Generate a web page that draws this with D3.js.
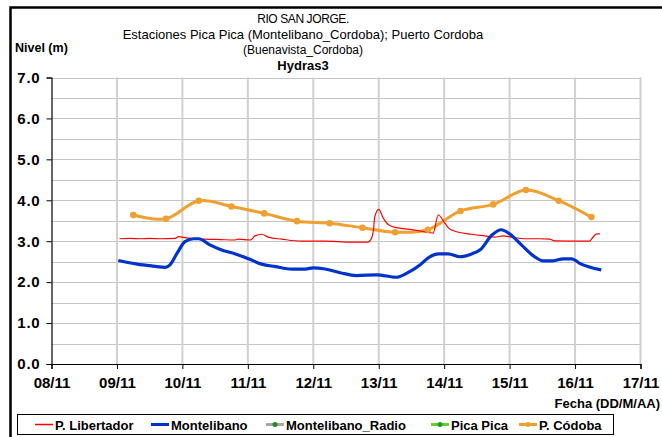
<!DOCTYPE html>
<html>
<head>
<meta charset="utf-8">
<script src="https://cdn.jsdelivr.net/npm/d3@7/dist/d3.min.js"></script>
<style>
  html, body { margin: 0; padding: 0; background: #fff; }
  svg { display: block; font-family: "Liberation Sans", Arial, sans-serif; }
</style>
</head>
<body>
<svg id="chart" width="662" height="437"></svg>
<script>
// Day labels along the time axis (08/11 .. 17/11)
const dayLabels = ["08/11", "09/11", "10/11", "11/11", "12/11", "13/11", "14/11", "15/11", "16/11", "17/11"];
const levelTicks = [0, 1, 2, 3, 4, 5, 6, 7];

// P. Libertador (day of month as decimal, level in m)
const libertadorDays = [9.04, 9.20, 9.36, 9.51, 9.66, 9.89, 9.94, 9.99, 10.12, 10.35, 10.58, 10.81, 10.85, 11.04, 11.11, 11.21, 11.31, 11.52, 11.82, 12.18, 12.56, 12.84, 12.89, 12.92, 12.94, 13.00, 13.07, 13.15, 13.27, 13.48, 13.63, 13.78, 13.83, 13.91, 14.01, 14.09, 14.22, 14.42, 14.62, 14.77, 14.90, 15.03, 15.23, 15.46, 15.61, 15.69, 16.07, 16.22, 16.28, 16.33, 16.38];
const libertadorLevels = [3.06, 3.07, 3.06, 3.07, 3.06, 3.07, 3.11, 3.10, 3.07, 3.05, 3.04, 3.03, 3.05, 3.03, 3.13, 3.17, 3.10, 3.05, 3.00, 3.00, 2.98, 2.98, 3.07, 3.28, 3.60, 3.78, 3.56, 3.40, 3.33, 3.29, 3.25, 3.21, 3.20, 3.64, 3.44, 3.29, 3.22, 3.17, 3.13, 3.10, 3.13, 3.10, 3.06, 3.06, 3.05, 3.01, 3.00, 3.00, 3.11, 3.18, 3.18];

// Montelibano
const montelibanoDays = [9.02, 9.31, 9.56, 9.74, 9.81, 9.92, 10.04, 10.17, 10.25, 10.42, 10.58, 10.81, 11.01, 11.21, 11.42, 11.67, 11.88, 12.00, 12.18, 12.41, 12.66, 12.97, 13.27, 13.43, 13.63, 13.78, 13.91, 14.06, 14.24, 14.42, 14.55, 14.73, 14.87, 15.00, 15.18, 15.39, 15.51, 15.66, 15.82, 15.95, 16.07, 16.40];
const montelibanoLevels = [2.53, 2.44, 2.39, 2.36, 2.42, 2.71, 2.99, 3.06, 3.06, 2.91, 2.80, 2.69, 2.57, 2.44, 2.38, 2.32, 2.32, 2.35, 2.32, 2.23, 2.16, 2.18, 2.12, 2.22, 2.42, 2.62, 2.69, 2.69, 2.62, 2.69, 2.79, 3.15, 3.28, 3.18, 2.91, 2.61, 2.52, 2.52, 2.57, 2.57, 2.46, 2.30];

// P. Códoba (readings twice a day)
const cordobaDays = [9.25, 9.75, 10.25, 10.75, 11.25, 11.75, 12.25, 12.75, 13.25, 13.75, 14.25, 14.75, 15.25, 15.75, 16.25];
const cordobaLevels = [3.64, 3.55, 3.99, 3.85, 3.68, 3.49, 3.44, 3.33, 3.22, 3.28, 3.74, 3.90, 4.25, 3.99, 3.59];

const legendNames = ["P. Libertador", "Montelibano", "Montelibano_Radio", "Pica Pica", "P. Códoba"];
const legendColors = ["#ff0000", "#0033cc", "#a6a6a6", "#66cc33", "#f0a030"];

const svg = d3.select("#chart");

const x = d3.scaleLinear().domain([8, 17]).range([51.5, 640.5]);
const y = d3.scaleLinear().domain([0, 7]).range([364, 77.5]);

// outer frame
svg.append("rect")
  .attr("x", 10.5).attr("y", 7.5)
  .attr("width", 700).attr("height", 500)
  .attr("fill", "none").attr("stroke", "#000").attr("stroke-width", 2.5);

// title
const title = svg.append("g").attr("text-anchor", "middle").attr("fill", "#000");
title.append("text").attr("x", 303).attr("y", 23).attr("font-size", 12)
  .attr("letter-spacing", -0.4).text("RIO SAN JORGE.");
title.append("text").attr("x", 303).attr("y", 39).attr("font-size", 13)
  .text("Estaciones Pica Pica (Montelibano_Cordoba); Puerto Cordoba");
title.append("text").attr("x", 303).attr("y", 54).attr("font-size", 12)
  .text("(Buenavista_Cordoba)");
title.append("text").attr("x", 303).attr("y", 70).attr("font-size", 13)
  .attr("font-weight", "bold").text("Hydras3");

svg.append("text").attr("x", 15).attr("y", 52)
  .attr("font-size", 12.5).attr("font-weight", "bold").text("Nivel (m)");

// horizontal grid every 0.5 m
const grid = svg.append("g");
grid.selectAll("line.h")
  .data(d3.range(0.5, 7.01, 0.5))
  .join("line")
  .attr("x1", x(8)).attr("x2", x(17))
  .attr("y1", d => Math.round(y(d)) + 0.5).attr("y2", d => Math.round(y(d)) + 0.5)
  .attr("stroke", "#c4c4c4").attr("stroke-width", 1);

// vertical grid every day
grid.selectAll("line.v")
  .data(d3.range(9, 17.01, 1))
  .join("line")
  .attr("x1", d => x(d)).attr("x2", d => x(d))
  .attr("y1", y(7)).attr("y2", y(0))
  .attr("stroke", "#d0d0d0").attr("stroke-width", 2);

// axes
const yAxis = d3.axisLeft(y).tickValues(levelTicks).tickFormat(d3.format(".1f")).tickSize(5).tickPadding(6);
const yG = svg.append("g").attr("transform", `translate(${x(8)},0)`).call(yAxis);
yG.select(".domain").attr("stroke", "#000").attr("stroke-width", 1.2);
yG.selectAll(".tick line").attr("stroke", "#000");
yG.selectAll("text").attr("font-size", 15).attr("font-weight", "bold").attr("fill", "#000")
  .attr("letter-spacing", 0.8)
  .attr("font-family", "Liberation Sans, Arial, sans-serif");

const xAxis = d3.axisBottom(x).tickValues(d3.range(8, 17.01, 1))
  .tickFormat((d, i) => dayLabels[i]).tickSize(5).tickPadding(8).tickSizeOuter(5);
const xG = svg.append("g").attr("transform", `translate(0,${y(0)})`).call(xAxis);
xG.select(".domain").attr("stroke", "#000").attr("stroke-width", 1.2);
xG.selectAll(".tick line").attr("stroke", "#000");
xG.selectAll("text").attr("font-size", 15).attr("font-weight", "bold").attr("fill", "#000")
  .attr("font-family", "Liberation Sans, Arial, sans-serif");

svg.append("text").attr("x", 660).attr("y", 408).attr("text-anchor", "end")
  .attr("font-size", 13).attr("font-weight", "bold").text("Fecha (DD/M/AA)");

// series
const line = d3.line().x(d => x(d[0])).y(d => y(d[1]));

svg.append("path")
  .datum(d3.zip(cordobaDays, cordobaLevels))
  .attr("d", line.curve(d3.curveCatmullRom.alpha(0.5)))
  .attr("fill", "none").attr("stroke", legendColors[4]).attr("stroke-width", 3);

svg.append("path")
  .datum(d3.zip(libertadorDays, libertadorLevels))
  .attr("d", line.curve(d3.curveMonotoneX))
  .attr("fill", "none").attr("stroke", legendColors[0]).attr("stroke-width", 1.2);

svg.append("path")
  .datum(d3.zip(montelibanoDays, montelibanoLevels))
  .attr("d", line.curve(d3.curveMonotoneX))
  .attr("fill", "none").attr("stroke", legendColors[1]).attr("stroke-width", 3.2);

svg.append("g").selectAll("circle")
  .data(d3.zip(cordobaDays, cordobaLevels))
  .join("circle")
  .attr("cx", d => x(d[0])).attr("cy", d => y(d[1])).attr("r", 3.3)
  .attr("fill", legendColors[4]);

// legend
const legend = svg.append("g");
legend.append("rect").attr("x", 17.5).attr("y", 414.5).attr("width", 596).attr("height", 20)
  .attr("fill", "#fff").attr("stroke", "#000").attr("stroke-width", 1);
const legendLineX = [35, 151, 266, 431, 519];
const legendMarker = [false, false, true, true, true];
const legendMarkerColor = [null, null, "#228b22", "#1e9e1e", "#f0a030"];
const legendWidth = [1.5, 3, 3, 3, 3];
legendNames.forEach((name, i) => {
  const lx = legendLineX[i];
  legend.append("line").attr("x1", lx).attr("x2", lx + 18).attr("y1", 424.5).attr("y2", 424.5)
    .attr("stroke", legendColors[i]).attr("stroke-width", legendWidth[i]);
  if (legendMarker[i]) {
    legend.append("circle").attr("cx", lx + 9).attr("cy", 424.5).attr("r", 2.5).attr("fill", legendMarkerColor[i]);
  }
  legend.append("text").attr("x", lx + 20).attr("y", 429.5)
    .attr("font-size", 13).attr("font-weight", "bold").text(name);
});
</script>
</body>
</html>
